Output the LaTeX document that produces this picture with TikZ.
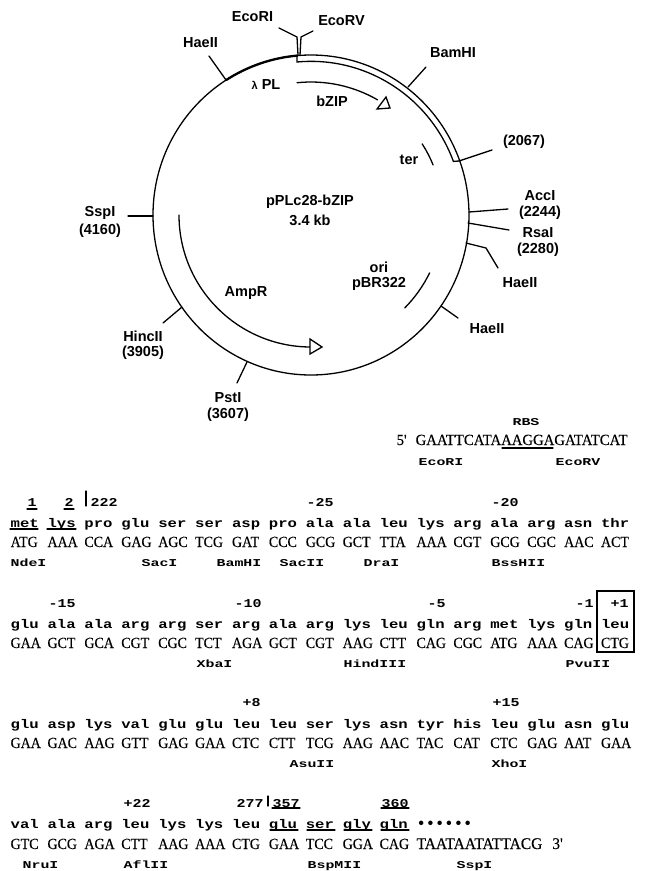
\documentclass[tikz,border=0pt]{standalone}
\usepackage{fontspec}
\usepackage{tikz}
\setmainfont{Liberation Sans}
\newfontfamily\aminofont[FakeStretch=1.25]{Liberation Mono Bold}
\newfontfamily\dotfont{Liberation Mono Bold}
\newfontfamily\sitefont[FakeStretch=1.42]{Liberation Mono Bold}
\newfontfamily\codonfont[FakeBold=0.3,FakeStretch=0.9]{Liberation Serif}
\newfontfamily\leaderfont[FakeBold=0.3,FakeStretch=0.95]{Liberation Serif}
\newcommand{\seqrow}[4]{%
  \foreach \w [count=\i from 0] in {#4}
    \node[#2] (#3\i) at ({10+36.9*\i},#1) {\w};
}
\begin{document}
\begin{tikzpicture}[x=1pt, y=1pt, line width=1.3pt, line cap=round,
    maplabel/.style={font=\fontsize{14.5}{14.5}\selectfont\bfseries, inner sep=0pt},
    amino/.style={font=\fontsize{12.5}{12.5}\aminofont, anchor=base west, inner sep=0pt},
    codon/.style={font=\fontsize{15.5}{15.5}\codonfont, anchor=base west, inner sep=0pt},
    site/.style={font=\fontsize{10.5}{10.5}\sitefont, anchor=base west, inner sep=0pt},
    posnum/.style={font=\fontsize{12}{12}\aminofont, anchor=base west, inner sep=0pt}]
    \useasboundingbox (0,0) rectangle (647,-871);
    \coordinate (c) at (311,-215);

    \draw (c) ellipse [x radius=158, y radius=160];
    \draw[line width=2.3pt] (c) ++(122.5:158 and 160) arc [start angle=122.5, end angle=95, x radius=158, y radius=160];
    \draw (297,-55) -- (297,-62) arc [start angle=95.3, end angle=20.5, x radius=152, y radius=154] -- (459,-161);

    \draw (c) ++(96:133) coordinate (bzipa) arc [start angle=96, end angle=60, radius=133];
    \draw (c) ++(32.6:132) coordinate (tera) arc [start angle=32.6, end angle=22.3, radius=132];
    \draw (c) ++(-26:132) coordinate (oria) arc [start angle=-26, end angle=-44.7, radius=132];
    \draw (c) ++(180:132) coordinate (ampa) arc [start angle=180, end angle=270, radius=132];
    \draw[fill=white] (386,-97) -- (377,-109) -- (390,-108) -- cycle;
    \draw[fill=white] (310,-339) -- (322,-347) -- (310,-354) -- cycle;

    \foreach \n/\x/\y in {ecoria/298/55, ecorib/297/37, ecoric/279/28, ecorva/300/55, ecorvb/301/37, ecorvc/313/31,
        haea/226/80, haeb/209/56, bama/408/87, bamb/426/67, enda/459/161, endb/492/150,
        acca/469/212, accb/508/209, rsaa/468/223, rsab/509/230, haeca/466/243, haecb/486/248, haecc/498/268,
        haeda/441/306, haedb/458/318, psta/247/362, pstb/237/383, hinca/182/307, hincb/163/323, sspa/153/216, sspb/128/216}
      \coordinate (\n) at (\x,-\y);
    \draw (ecoria) -- (ecorib) -- (ecoric);
    \draw (ecorva) -- (ecorvb) -- (ecorvc);
    \draw (haea) -- (haeb);
    \draw (bama) -- (bamb);
    \draw (enda) -- (endb);
    \draw (acca) -- (accb);
    \draw (rsaa) -- (rsab);
    \draw (haeca) -- (haecb) -- (haecc);
    \draw (haeda) -- (haedb);
    \draw (psta) -- (pstb);
    \draw (hinca) -- (hincb);
    \draw (sspa) -- (sspb);

    \node[maplabel] (ecorilab) at (252.5,-17) {EcoRI};
    \node[maplabel] (ecorvlab) at (341.5,-21) {EcoRV};
    \node[maplabel] (haelaba) at (200.5,-43) {HaeII};
    \node[maplabel] (bamlab) at (453,-53) {BamHI};
    \node[maplabel] (endlab) at (524,-142) {(2067)};
    \node[maplabel] (acclab) at (540,-196) {AccI};
    \node[maplabel] (accnum) at (540,-213) {(2244)};
    \node[maplabel] (rsalab) at (538,-233) {RsaI};
    \node[maplabel] (rsanum) at (538,-250) {(2280)};
    \node[maplabel] (haelabb) at (520,-283) {HaeII};
    \node[maplabel] (haelabc) at (487,-329) {HaeII};
    \node[maplabel] (ssplab) at (100,-213) {SspI};
    \node[maplabel] (sspnum) at (100,-231) {(4160)};
    \node[maplabel] (hinclab) at (143,-336) {HincII};
    \node[maplabel] (hincnum) at (143,-353) {(3905)};
    \node[maplabel] (pstlab) at (228,-398) {PstI};
    \node[maplabel] (pstnum) at (228,-415) {(3607)};
    \node[maplabel] (pllab) at (266,-85) {{\fontsize{11}{11}\selectfont λ} PL};
    \node[maplabel] (bziplab) at (332,-101) {bZIP};
    \node[maplabel] (terlab) at (409,-160) {ter};
    \node[maplabel] (namelab) at (310,-202) {pPLc28-bZIP};
    \node[maplabel] (sizelab) at (310,-220) {3.4 kb};
    \node[maplabel] (orilab) at (379,-267) {ori};
    \node[maplabel] (pbrlab) at (379,-284) {pBR322};
    \node[maplabel] (amplab) at (246,-293) {AmpR};

    \node[site, anchor=center] (rbslab) at (526,-422) {RBS};
    \node[codon, font=\fontsize{15.5}{15.5}\leaderfont] (leader) at (396,-445) {5'\hspace{9pt}GAATTCATAAAGGAGATATCAT};
    \draw (502,-448) -- (553,-448);
    \node[site, anchor=center] (ecoriseq) at (441,-462) {EcoRI};
    \node[site, anchor=center] (ecorvseq) at (578,-462) {EcoRV};

    \seqrow{-527}{amino}{aa}{met,lys,pro,glu,ser,ser,asp,pro,ala,ala,leu,lys,arg,ala,arg,asn,thr}
    \seqrow{-547}{codon}{cd}{ATG,AAA,CCA,GAG,AGC,TCG,GAT,CCC,GCG,GCT,TTA,AAA,CGT,GCG,CGC,AAC,ACT}
    \seqrow{-628}{amino}{ab}{glu,ala,ala,arg,arg,ser,arg,ala,arg,lys,leu,gln,arg,met,lys,gln,leu}
    \seqrow{-648}{codon}{ce}{GAA,GCT,GCA,CGT,CGC,TCT,AGA,GCT,CGT,AAG,CTT,CAG,CGC,ATG,AAA,CAG,CTG}
    \seqrow{-728}{amino}{ac}{glu,asp,lys,val,glu,glu,leu,leu,ser,lys,asn,tyr,his,leu,glu,asn,glu}
    \seqrow{-748}{codon}{cf}{GAA,GAC,AAG,GTT,GAG,GAA,CTC,CTT,TCG,AAG,AAC,TAC,CAT,CTC,GAG,AAT,GAA}
    \seqrow{-828}{amino}{ad}{val,ala,arg,leu,lys,lys,leu,glu,ser,gly,gln,{\dotfont\fontsize{15.5}{15.5}\selectfont ••••••}}
    \seqrow{-849}{codon}{cg}{GTC,GCG,AGA,CTT,AAG,AAA,CTG,GAA,TCC,GGA,CAG,{\leaderfont\fontsize{16.3}{16.3}\selectfont TAATAATATTACG\hspace{10pt}3'}}

    \foreach \n/\x/\y/\t in {nde/10/566/NdeI, sac/141/566/SacI, bms/216/566/BamHI, sacb/279/566/SacII,
        dra/363/566/DraI, bss/491/566/BssHII, xba/196/667/XbaI, hind/343/667/HindIII, pvu/565/667/PvuII,
        asu/289/767/AsuII, xho/491/767/XhoI, nru/22/868/NruI, afl/123/868/AflII, bsp/307/868/BspMII, sspq/456/868/SspI}
      \node[site] (\n) at (\x,-\y) {\t};

    \foreach \n/\x/\y/\t in {na/27/506/1, nb/64/506/2, nc/90/506/222, nd/306/506/-25, ne/491/506/-20,
        nf/48/607/-15, ng/234/607/-10, nh/427/607/-5, ni/575/607/-1, nj/610/607/+1,
        nk/242/706/+8, nl/492/706/+15, nm/123/807/+22, nn/236/807/277, no/272/807/357, np/381/807/360}
      \node[posnum] (\n) at (\x,-\y) {\t};

    \node[draw, line width=2pt, minimum width=37pt, minimum height=61pt, inner sep=0pt] (startbox) at (615.5,-621.5) {};

    \foreach \a/\b/\y in {10/38/529, 47/76/529, 27/37/509, 64/74/509, 272/300/808, 381/409/808, 270/298/830, 307/335/830, 344/372/830, 381/409/830}
      \draw (\a,-\y) -- (\b,-\y);
    \draw (86,-491) -- (86,-506);
    \draw (268,-796) -- (268,-806);
\end{tikzpicture}
\end{document}
